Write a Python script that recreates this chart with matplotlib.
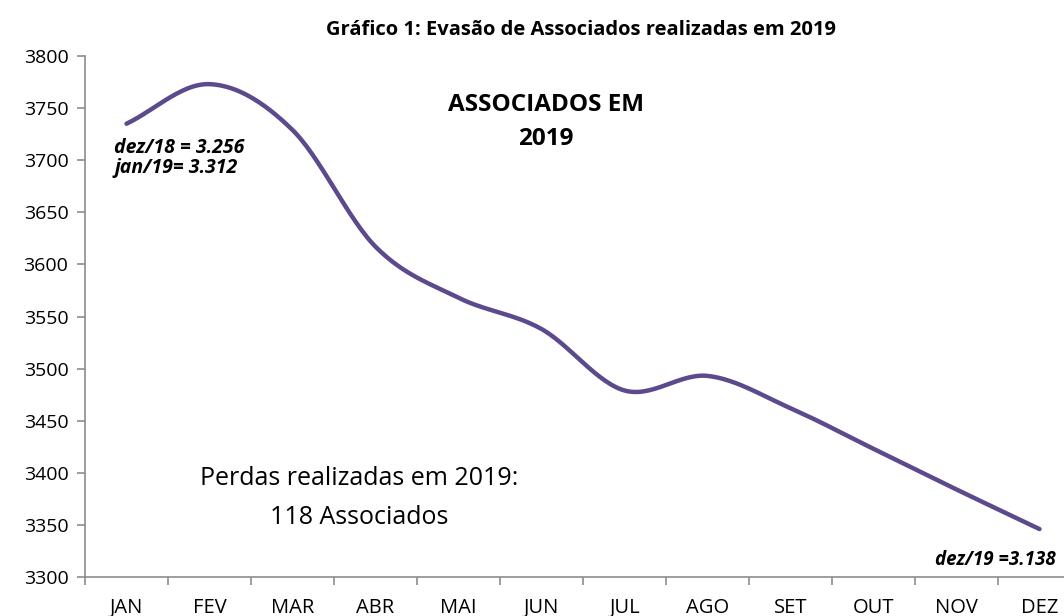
import numpy as np
import matplotlib
matplotlib.use('Agg')
import matplotlib.pyplot as plt

months = ['JAN', 'FEV', 'MAR', 'ABR', 'MAI', 'JUN', 'JUL', 'AGO', 'SET', 'OUT', 'NOV', 'DEZ']
associados = [3735, 3773, 3729, 3617, 3568, 3538, 3479, 3493, 3462, 3423, 3384, 3346]

title = 'Gráfico 1: Evasão de Associados realizadas em 2019'
box_title = 'ASSOCIADOS EM\n2019'
note_start = 'dez/18 = 3.256\njan/19= 3.312'
note_end = 'dez/19 =3.138'
note_loss = 'Perdas realizadas em 2019:\n118 Associados'

plt.rcParams['font.family'] = ['Open Sans', 'DejaVu Sans']


def smooth(x, y, steps=30):
    # catmull-rom curve through the points, like Excel's smoothed line
    x = np.asarray(x, float)
    y = np.asarray(y, float)
    px = np.concatenate([[2 * x[0] - x[1]], x, [2 * x[-1] - x[-2]]])
    py = np.concatenate([[2 * y[0] - y[1]], y, [2 * y[-1] - y[-2]]])
    xs, ys = [], []
    t = np.linspace(0, 1, steps, endpoint=False)
    for i in range(1, len(px) - 2):
        for p, out in ((px, xs), (py, ys)):
            p0, p1, p2, p3 = p[i - 1], p[i], p[i + 1], p[i + 2]
            out.extend(0.5 * (2 * p1 + (-p0 + p2) * t
                              + (2 * p0 - 5 * p1 + 4 * p2 - p3) * t ** 2
                              + (-p0 + 3 * p1 - 3 * p2 + p3) * t ** 3))
    xs.append(x[-1])
    ys.append(y[-1])
    return np.array(xs), np.array(ys)


W, H = 1064, 616
fig = plt.figure(figsize=(W / 100, H / 100), dpi=100)
ax = fig.add_axes([85 / W, 39 / H, 996 / W, 521 / H])

pos = np.arange(len(months))
sx, sy = smooth(pos, associados)
ax.plot(sx, sy, color='#5C4A8C', lw=3.2, solid_capstyle='round', clip_on=False)

ax.set_xlim(-0.5, len(months) - 0.5)
ax.set_ylim(3300, 3800)
ax.set_yticks(np.arange(3300, 3801, 50))
ax.set_xticks(pos)
ax.set_xticklabels(months)
ax.set_xticks(np.arange(-0.5, len(months), 1), minor=True)

for s in ('top', 'right'):
    ax.spines[s].set_visible(False)
for s in ('left', 'bottom'):
    ax.spines[s].set_color('#8C8C8C')
    ax.spines[s].set_linewidth(1.2)
ax.tick_params(axis='y', length=6, width=1.2, color='#8C8C8C', labelsize=14, pad=6)
ax.tick_params(axis='x', which='major', length=0, labelsize=14.5, pad=15)
ax.tick_params(axis='x', which='minor', length=6, width=1.2, color='#8C8C8C')

fig.text(581 / W, 1 - 30 / H, title, ha='center', va='center', fontsize=14.5, fontweight='bold')
ax.text(5.05, 3737, box_title, ha='center', va='center', fontsize=17.5,
        fontweight='bold', linespacing=1.55)
ax.text(-0.15, 3702, note_start, ha='left', va='center', fontsize=14,
        fontweight='bold', style='italic', linespacing=1.0)
ax.text(11.2, 3316, note_end, ha='right', va='center', fontsize=13.5,
        fontweight='bold', style='italic')
ax.text(2.8, 3376, note_loss, ha='center', va='center', fontsize=18,
        linespacing=1.75)

fig.savefig('out.png', dpi=100, facecolor='white')
